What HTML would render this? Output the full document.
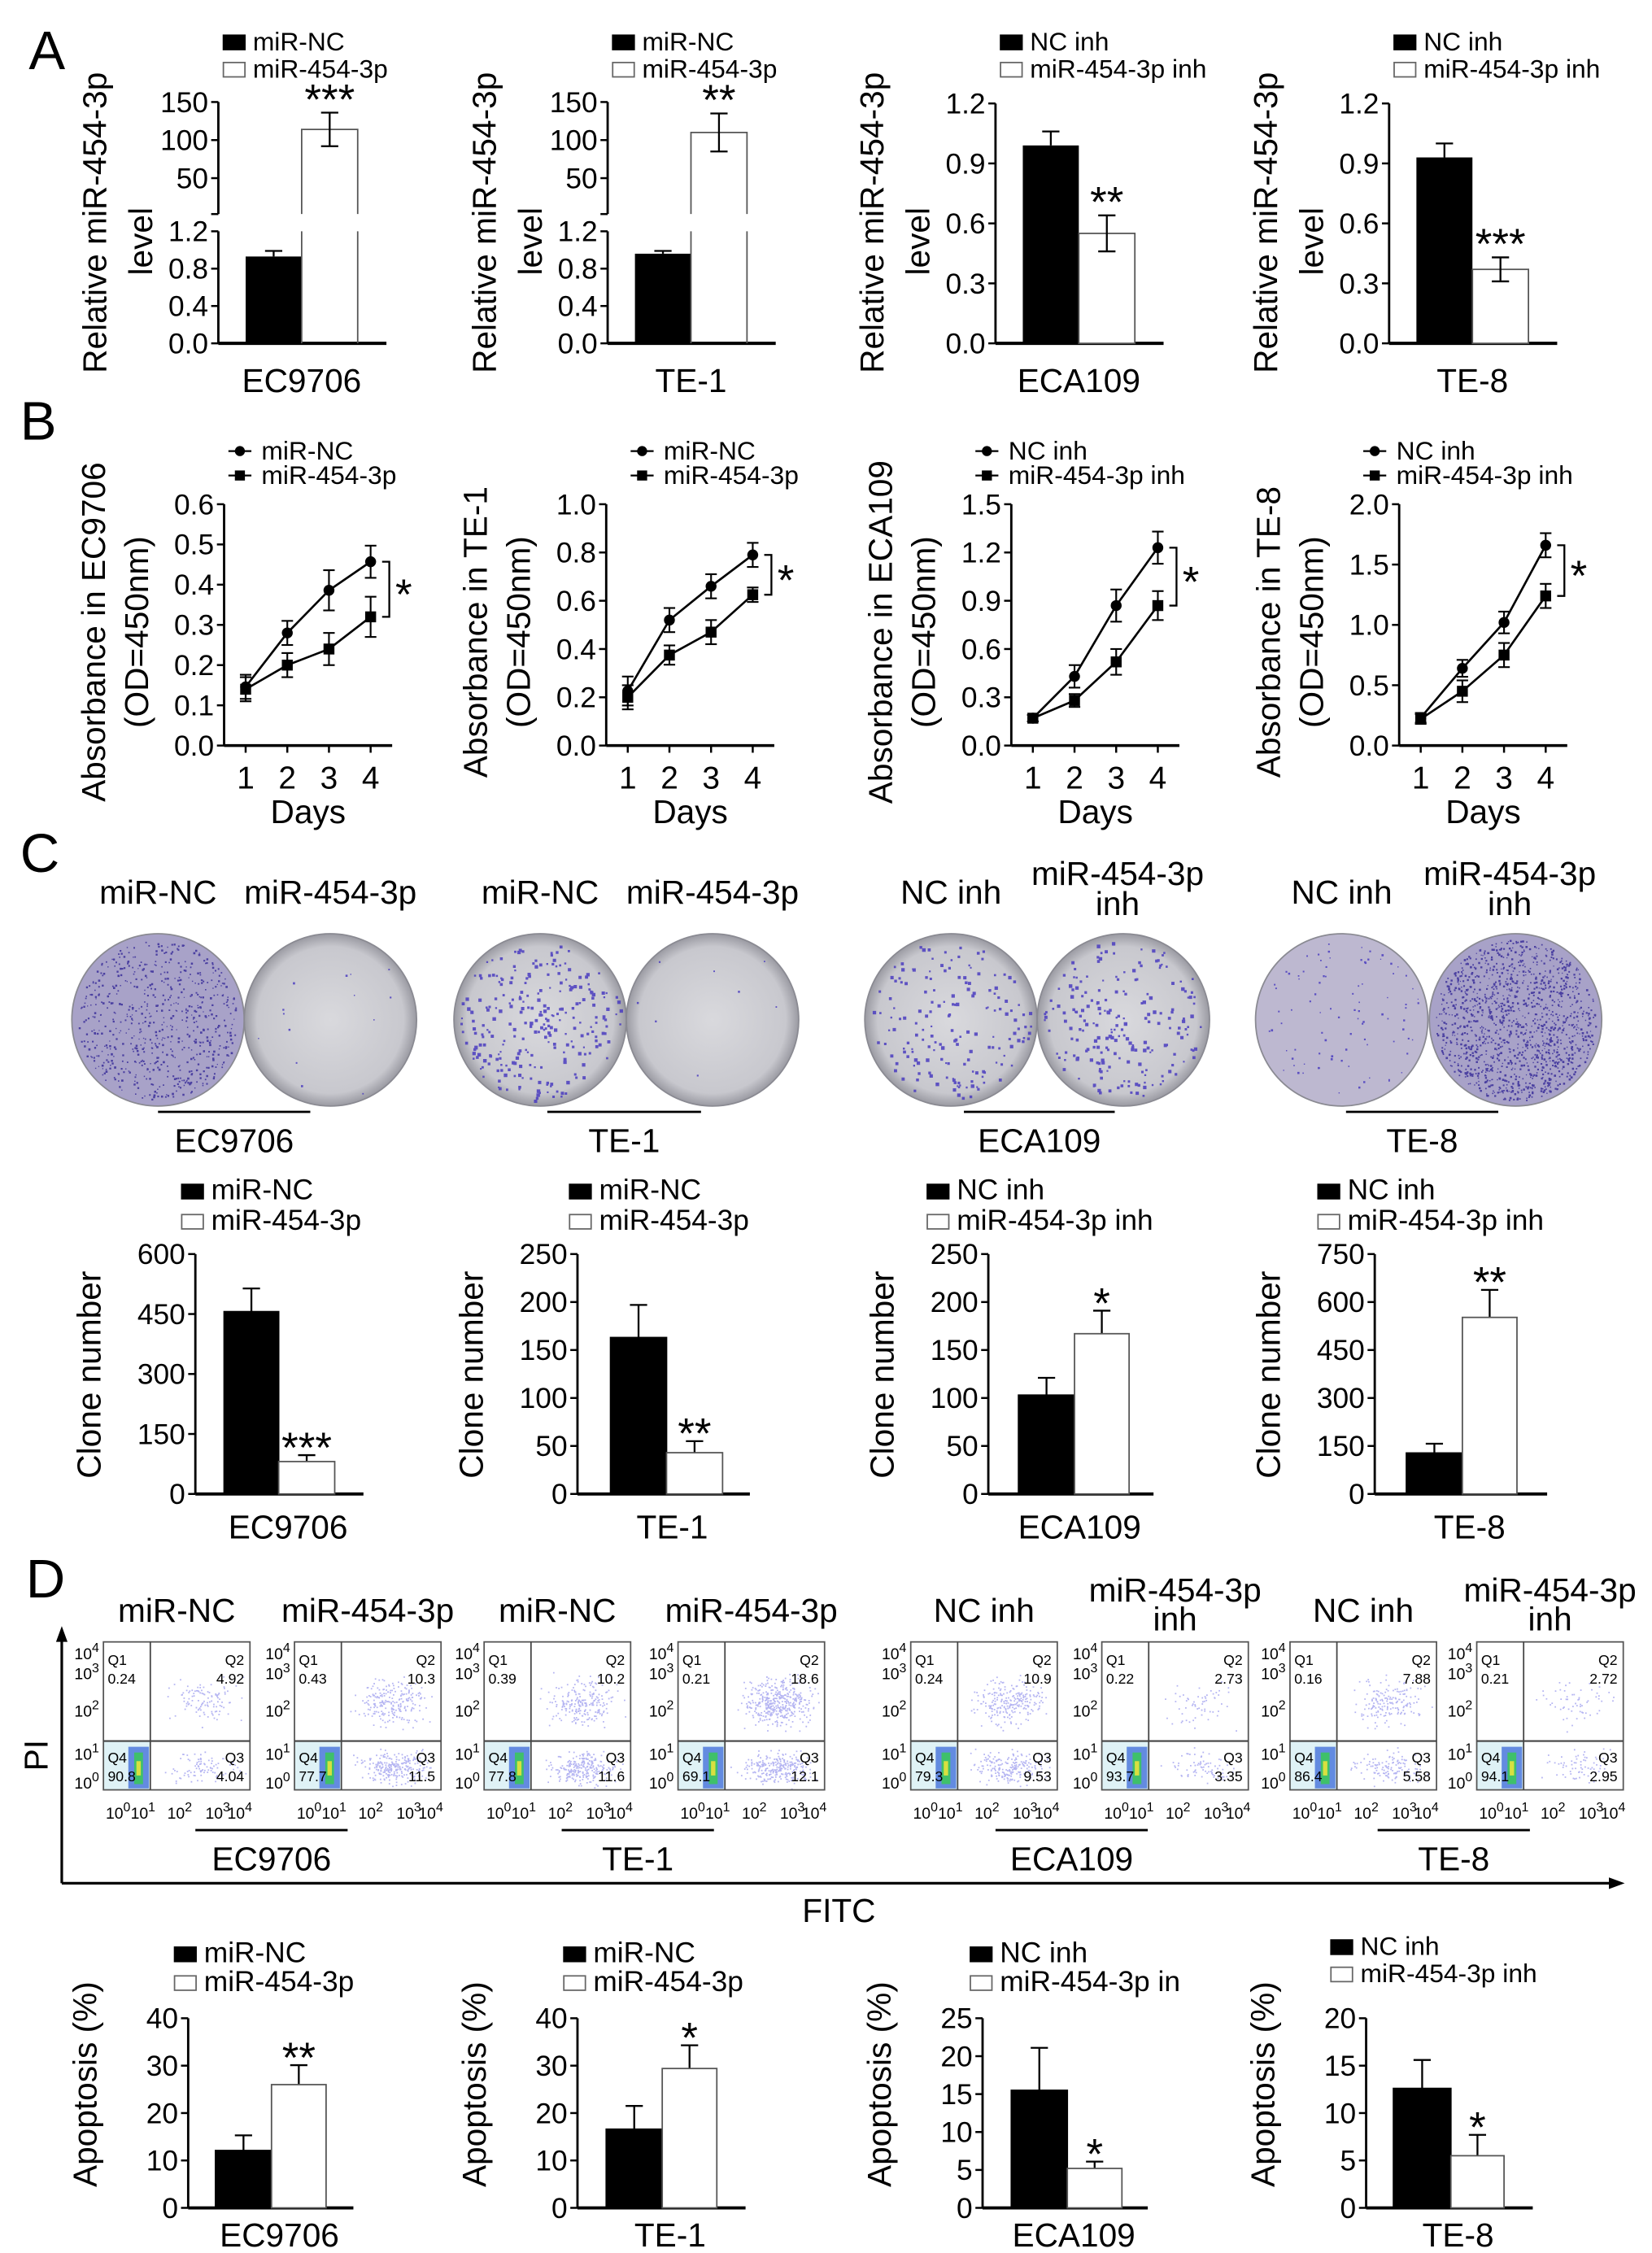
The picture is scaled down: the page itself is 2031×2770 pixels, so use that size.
<!DOCTYPE html>
<html><head><meta charset="utf-8">
<style>
html,body{margin:0;padding:0;background:#fff;}
svg{display:block;font-family:"Liberation Sans",Arial,sans-serif;}
</style></head>
<body>
<svg id="fig" xmlns="http://www.w3.org/2000/svg" width="2031" height="2770" viewBox="0 0 1150 1568.4">
<rect x="0" y="0" width="1150" height="1569" fill="#fff"/>
</svg>
<script>
// ---------- DATA ----------
const cellLines = ['EC9706','TE-1','ECA109','TE-8'];
const legendCtrl = ['miR-NC','miR-NC','NC inh','NC inh'];
const legendTrt = ['miR-454-3p','miR-454-3p','miR-454-3p inh','miR-454-3p inh'];
const legendTrtD = ['miR-454-3p','miR-454-3p','miR-454-3p in','miR-454-3p inh'];
// Panel A
const A_ctrl = [0.93, 0.96, 0.99, 0.93];
const A_ctrlErr = [0.06, 0.03, 0.07, 0.07];
const A_trt = [114, 110, 0.55, 0.37];
const A_trtErr = [22, 25, 0.09, 0.06];
const A_stars = ['***','**','**','***'];
const A_ticksBroken_lo = [0.0, 0.4, 0.8, 1.2];
const A_ticksBroken_hi = [50, 100, 150];
const A_ticksLin = [0.0, 0.3, 0.6, 0.9, 1.2];
// Panel B
const B_days = [1, 2, 3, 4];
const B_ctrl = [[0.146,0.28,0.386,0.457],[0.226,0.52,0.66,0.79],[0.17,0.43,0.87,1.23],[0.23,0.64,1.02,1.66]];
const B_trt = [[0.14,0.20,0.24,0.32],[0.20,0.375,0.47,0.625],[0.17,0.28,0.52,0.87],[0.22,0.45,0.75,1.24]];
const B_ctrlErr = [[0.03,0.03,0.05,0.04],[0.06,0.05,0.05,0.05],[0.02,0.07,0.1,0.1],[0.04,0.07,0.09,0.1]];
const B_trtErr = [[0.03,0.03,0.04,0.05],[0.05,0.04,0.05,0.03],[0.02,0.04,0.08,0.09],[0.04,0.09,0.1,0.1]];
const B_max = [0.6, 1.0, 1.5, 2.0];
const B_step = [0.1, 0.2, 0.3, 0.5];
const B_titles = ['Absorbance in EC9706','Absorbance in TE-1','Absorbance in ECA109','Absorbance in TE-8'];
// Panel C
const C_ctrl = [456, 163, 103, 128];
const C_ctrlErr = [58, 34, 18, 29];
const C_trt = [81, 43, 167, 552];
const C_trtErr = [16, 12, 24, 86];
const C_max = [600, 250, 250, 750];
const C_step = [150, 50, 50, 150];
const C_stars = ['***','**','*','**'];
const C_plateDensity = [[650,14],[260,8],[170,210],[90,1300]];
// Panel D flow
const D_Q1 = [0.24,0.43,0.39,0.21,0.24,0.22,0.16,0.21];
const D_Q2 = [4.92,10.3,10.2,18.6,10.9,2.73,7.88,2.72];
const D_Q3 = [4.04,11.5,11.6,12.1,9.53,3.35,5.58,2.95];
const D_Q4 = [90.8,77.7,77.8,69.1,79.3,93.7,86.4,94.1];
// Panel D bars
const D_ctrl = [12.1, 16.6, 15.5, 12.6];
const D_ctrlErr = [3.2, 4.9, 5.6, 3.0];
const D_trt = [26.0, 29.4, 5.2, 5.5];
const D_trtErr = [4.1, 4.9, 0.9, 2.2];
const D_max = [40, 40, 25, 20];
const D_step = [10, 10, 5, 5];
const D_stars = ['**','*','*','*'];

// ---------- HELPERS ----------
const NS = 'http://www.w3.org/2000/svg';
const svg = document.getElementById('fig');
function mk(tag, attrs, name, parent) {
  const el = document.createElementNS(NS, tag);
  for (const k in attrs) el.setAttribute(k, attrs[k]);
  
  
  (parent || svg).appendChild(el);
  return el;
}
function txt(x, y, s, size, name, opts) {
  opts = opts || {};
  const t = mk('text', {x: x, y: y, 'font-size': size, 'text-anchor': opts.anchor || 'middle', fill: '#000'}, name, opts.parent);
  if (opts.rot) t.setAttribute('transform', 'rotate(-90 ' + x + ' ' + y + ')');
  if (opts.weight) t.setAttribute('font-weight', opts.weight);
  t.textContent = s;
  return t;
}
function line(x1, y1, x2, y2, w, name, parent, color) {
  return mk('line', {x1: x1, y1: y1, x2: x2, y2: y2, stroke: color || '#000', 'stroke-width': w}, name, parent);
}
function fmt(v, step) {
  if (step < 1) return v.toFixed(1);
  return String(Math.round(v));
}
function lcg(seed) { let s = seed; return function(){ s = (s * 1664525 + 1013904223) % 4294967296; return s / 4294967296; }; }

// panel letters
txt(20, 48, 'A', 38, 'panel-letter-a', {anchor: 'start'});
txt(14, 306, 'B', 38, 'panel-letter-b', {anchor: 'start'});
txt(14, 607, 'C', 38, 'panel-letter-c', {anchor: 'start'});
txt(18, 1112, 'D', 38, 'panel-letter-d', {anchor: 'start'});

// legend
function legend(x, y1, y2, ctrlLabel, trtLabel, size, name) {
  const g = mk('g', {}, name);
  mk('rect', {x: x, y: y1 - 11, width: 16, height: 11, fill: '#000'}, 'legend-swatch-control', g);
  txt(x + 21, y1, ctrlLabel, size, 'legend-label-control', {anchor: 'start', parent: g});
  mk('rect', {x: x + 0.5, y: y2 - 10.5, width: 15, height: 10, fill: '#fff', stroke: '#666', 'stroke-width': 1}, 'legend-swatch-treatment', g);
  txt(x + 21, y2, trtLabel, size, 'legend-label-treatment', {anchor: 'start', parent: g});
}

// generic bar chart (linear)
function barChart(cfg) {
  const g = mk('g', {}, cfg.name);
  const ys = v => cfg.y0 - (v / cfg.max) * (cfg.y0 - cfg.yTop);
  line(cfg.ax, cfg.yTop, cfg.ax, cfg.y0, 1.6, 'y-axis', g);
  line(cfg.ax, cfg.y0, cfg.axEnd, cfg.y0, 2.2, 'x-axis', g);
  for (let v = 0; v <= cfg.max + 1e-9; v += cfg.step) {
    const y = ys(v);
    line(cfg.ax - 5, y, cfg.ax, y, 1.4, 'y-tick', g);
    txt(cfg.ax - 7, y + 7, fmt(v, cfg.step), 20, 'y-tick-label', {anchor: 'end', parent: g});
  }
  const bars = [[cfg.b1, cfg.ctrl, cfg.ctrlErr, '#000', 'bar-control'], [cfg.b2, cfg.trt, cfg.trtErr, '#fff', 'bar-treatment']];
  bars.forEach(b => {
    const x = b[0][0], w = b[0][1] - b[0][0], v = b[1], e = b[2];
    const top = ys(v), cx = x + w / 2;
    line(cx, top, cx, ys(v + e), 1.3, 'error-bar', g);
    line(cx - 6, ys(v + e), cx + 6, ys(v + e), 1.3, 'error-cap', g);
    if (b[3] === '#fff') { line(cx, top, cx, ys(v - e), 1.3, 'error-bar', g); line(cx - 6, ys(v - e), cx + 6, ys(v - e), 1.3, 'error-cap', g); }
    mk('rect', {x: x, y: top, width: w, height: cfg.y0 - top, fill: b[3], stroke: b[3] === '#fff' ? '#555' : '#000', 'stroke-width': 1}, b[4], g);
  });
  const cx2 = (cfg.b2[0] + cfg.b2[1]) / 2;
  txt(cx2, ys(cfg.trt + cfg.trtErr) + 5, cfg.star, 30, 'significance-stars', {parent: g});
  txt((cfg.ax + cfg.axEnd) / 2 + 6, cfg.xLabY, cfg.xLabel, 23, 'x-category-label', {parent: g});
  txt(cfg.ylx, cfg.yly, cfg.yTitle, 23, 'y-axis-title', {rot: true, parent: g});
  return g;
}

// ---------- PANEL A ----------
const A_ax = [152, 423, 693, 967];
const A_y0 = 239, A_yTop = 72;
for (let i = 0; i < 4; i++) {
  const ax = A_ax[i];
  const g = mk('g', {}, 'panel-a-chart-' + cellLines[i].toLowerCase());
  legend(ax + 3, 35, 54, legendCtrl[i], legendTrt[i], 18, 'legend');
  const b1 = [ax + 19, ax + 58], b2 = [ax + 58, ax + 97];
  const axEnd = ax + 117;
  line(ax, A_y0, axEnd, A_y0, 2.2, 'x-axis', g);
  let ysLo, ysHi = null;
  if (i < 2) {
    ysLo = v => A_y0 - v / 1.2 * (A_y0 - 161);
    ysHi = v => 124 - (v - 50) / 100 * (124 - 71);
    line(ax, 161, ax, A_y0, 1.6, 'y-axis-lower', g);
    line(ax, 71, ax, 149, 1.6, 'y-axis-upper', g);
    line(ax - 5, 149, ax, 149, 1.4, 'axis-break-tick', g);
    A_ticksBroken_lo.forEach(v => { line(ax - 5, ysLo(v), ax, ysLo(v), 1.4, 'y-tick', g); txt(ax - 7, ysLo(v) + 7, v.toFixed(1), 20, 'y-tick-label', {anchor: 'end', parent: g}); });
    A_ticksBroken_hi.forEach(v => { line(ax - 5, ysHi(v), ax, ysHi(v), 1.4, 'y-tick', g); txt(ax - 7, ysHi(v) + 7, String(v), 20, 'y-tick-label', {anchor: 'end', parent: g}); });
  } else {
    ysLo = v => A_y0 - v / 1.2 * (A_y0 - A_yTop);
    line(ax, A_yTop, ax, A_y0, 1.6, 'y-axis', g);
    A_ticksLin.forEach(v => { line(ax - 5, ysLo(v), ax, ysLo(v), 1.4, 'y-tick', g); txt(ax - 7, ysLo(v) + 7, v.toFixed(1), 20, 'y-tick-label', {anchor: 'end', parent: g}); });
  }
  const cTop = ysLo(A_ctrl[i]), cErr = ysLo(A_ctrl[i] + A_ctrlErr[i]), cx1 = (b1[0] + b1[1]) / 2;
  line(cx1, cTop, cx1, cErr, 1.3, 'error-bar', g); line(cx1 - 6, cErr, cx1 + 6, cErr, 1.3, 'error-cap', g);
  mk('rect', {x: b1[0], y: cTop, width: b1[1] - b1[0], height: A_y0 - cTop, fill: '#000'}, 'bar-control', g);
  const cx2 = (b2[0] + b2[1]) / 2;
  let tTop, eHi, eLo;
  if (ysHi) {
    tTop = ysHi(A_trt[i]); eHi = ysHi(A_trt[i] + A_trtErr[i]); eLo = ysHi(A_trt[i] - A_trtErr[i]);
    mk('path', {d: 'M' + b2[0] + ' ' + A_y0 + 'V161M' + b2[0] + ' 149V' + tTop + 'H' + b2[1] + 'V149M' + b2[1] + ' 161V' + A_y0, fill: 'none', stroke: '#555', 'stroke-width': 1}, 'bar-treatment', g);
  } else {
    tTop = ysLo(A_trt[i]); eHi = ysLo(A_trt[i] + A_trtErr[i]); eLo = ysLo(A_trt[i] - A_trtErr[i]);
    mk('rect', {x: b2[0], y: tTop, width: b2[1] - b2[0], height: A_y0 - tTop, fill: '#fff', stroke: '#555', 'stroke-width': 1}, 'bar-treatment', g);
  }
  line(cx2, eHi, cx2, eLo, 1.3, 'error-bar', g);
  line(cx2 - 6, eHi, cx2 + 6, eHi, 1.3, 'error-cap', g); line(cx2 - 6, eLo, cx2 + 6, eLo, 1.3, 'error-cap', g);
  txt(cx2, eHi + 1, A_stars[i], 30, 'significance-stars', {parent: g});
  txt(ax + 58, 273, cellLines[i], 23, 'x-category-label', {parent: g});
  txt(ax - 78, 155, 'Relative miR-454-3p', 23, 'y-axis-title', {rot: true, parent: g});
  txt(ax - 46, 168, 'level', 23, 'y-axis-title-line2', {rot: true, parent: g});
}

// ---------- PANEL B ----------
const B_ax = [156, 422, 704, 974];
const B_y0 = 519, B_yTop = 351;
for (let i = 0; i < 4; i++) {
  const ax = B_ax[i];
  const g = mk('g', {}, 'panel-b-chart-' + cellLines[i].toLowerCase());
  const xs = d => ax + 15 + (d - 1) * 29;
  const ys = v => B_y0 - v / B_max[i] * (B_y0 - B_yTop);
  line(ax, B_yTop, ax, B_y0, 1.6, 'y-axis', g);
  line(ax, B_y0, ax + 117, B_y0, 2, 'x-axis', g);
  for (let v = 0; v <= B_max[i] + 1e-9; v += B_step[i]) {
    line(ax - 5, ys(v), ax, ys(v), 1.4, 'y-tick', g);
    txt(ax - 7, ys(v) + 7, v.toFixed(1), 20, 'y-tick-label', {anchor: 'end', parent: g});
  }
  B_days.forEach(d => {
    line(xs(d), B_y0, xs(d), B_y0 + 5, 1.4, 'x-tick', g);
    txt(xs(d), B_y0 + 30, String(d), 22, 'x-tick-label', {parent: g});
  });
  txt(xs(2.5), 573, 'Days', 23, 'x-axis-title', {parent: g});
  txt(ax - 83, 440, B_titles[i], 23, 'y-axis-title', {rot: true, parent: g});
  txt(ax - 53, 440, '(OD=450nm)', 23, 'y-axis-title-line2', {rot: true, parent: g});
  [[B_ctrl[i], B_ctrlErr[i], 'line-control', 'circle'], [B_trt[i], B_trtErr[i], 'line-treatment', 'square']].forEach(s => {
    const pts = B_days.map((d, k) => xs(d) + ',' + ys(s[0][k]));
    mk('polyline', {points: pts.join(' '), fill: 'none', stroke: '#000', 'stroke-width': 1.5}, s[2], g);
    B_days.forEach((d, k) => {
      const x = xs(d), hi = ys(s[0][k] + s[1][k]), lo = ys(s[0][k] - s[1][k]);
      line(x, hi, x, lo, 1.2, 'error-bar', g);
      line(x - 4, hi, x + 4, hi, 1.2, 'error-cap', g); line(x - 4, lo, x + 4, lo, 1.2, 'error-cap', g);
      if (s[3] === 'circle') mk('circle', {cx: x, cy: ys(s[0][k]), r: 3.8, fill: '#000'}, 'point-control', g);
      else mk('rect', {x: x - 3.8, y: ys(s[0][k]) - 3.8, width: 7.6, height: 7.6, fill: '#000'}, 'point-treatment', g);
    });
  });
  const bx = xs(4) + 13, y1 = ys(B_ctrl[i][3]), y2 = ys(B_trt[i][3]);
  mk('path', {d: 'M' + (bx - 5) + ' ' + y1 + 'H' + bx + 'V' + y2 + 'H' + (bx - 5), fill: 'none', stroke: '#000', 'stroke-width': 1.3}, 'significance-bracket', g);
  txt(bx + 10, (y1 + y2) / 2 + 14, '*', 30, 'significance-star', {parent: g});
  const lx = [167, 447, 687, 957][i];
  line(lx - 8, 314, lx + 8, 314, 1.3, 'legend-line-control', g);
  mk('circle', {cx: lx, cy: 314, r: 3.5, fill: '#000'}, 'legend-marker-control', g);
  txt(lx + 15, 320, legendCtrl[i], 18, 'legend-label-control', {anchor: 'start', parent: g});
  line(lx - 8, 331, lx + 8, 331, 1.3, 'legend-line-treatment', g);
  mk('rect', {x: lx - 3.5, y: 327.5, width: 7, height: 7, fill: '#000'}, 'legend-marker-treatment', g);
  txt(lx + 15, 337, legendTrt[i], 18, 'legend-label-treatment', {anchor: 'start', parent: g});
}

// ---------- PANEL C plates ----------
const plateCx = [[110, 230], [376, 496], [662, 782], [934, 1055]];
const plateLabelsCtrl = [['miR-NC'], ['miR-NC'], ['NC inh'], ['NC inh']];
const plateLabelsTrt = [['miR-454-3p'], ['miR-454-3p'], ['miR-454-3p', 'inh'], ['miR-454-3p', 'inh']];
const defs = mk('defs', {}, 'defs');
const grad = mk('radialGradient', {id: 'plate', cx: '0.5', cy: '0.5', r: '0.5'}, 'plate-gradient', defs);
mk('stop', {offset: '0', 'stop-color': '#d9d9dd'}, 'stop', grad);
mk('stop', {offset: '0.85', 'stop-color': '#c8c8ce'}, 'stop', grad);
mk('stop', {offset: '1', 'stop-color': '#9a9aa2'}, 'stop', grad);
for (let i = 0; i < 4; i++) {
  const g = mk('g', {}, 'panel-c-plates-' + cellLines[i].toLowerCase());
  for (let j = 0; j < 2; j++) {
    const cx = plateCx[i][j], cy = 710, r = 60;
    const n = C_plateDensity[i][j];
    const heavy = n > 500;
    const fill = heavy ? '#a8a2c8' : (i === 3 ? '#bdb8d0' : 'url(#plate)');
    mk('circle', {cx: cx, cy: cy, r: r, fill: fill, stroke: '#8a8a92', 'stroke-width': 1}, j === 0 ? 'plate-control' : 'plate-treatment', g);
    const rnd = lcg(1000 + i * 17 + j * 5);
    let path = '';
    const big = (i === 1 && j === 0) || i === 2;
    for (let k = 0; k < n; k++) {
      const a = rnd() * Math.PI * 2, rr = Math.sqrt(rnd()) * (r - 4);
      const x = cx + Math.cos(a) * rr, y = cy + Math.sin(a) * rr;
      const s = big ? 1.2 + rnd() * 1.3 : 0.7 + rnd() * 0.8;
      path += 'M' + x.toFixed(1) + ' ' + y.toFixed(1) + 'h' + s.toFixed(1) + 'v' + s.toFixed(1) + 'h-' + s.toFixed(1) + 'z';
    }
    mk('path', {d: path, fill: heavy ? '#3b2f9a' : '#4a3cc0', opacity: 0.85}, 'colonies', g);
    const lines = j === 0 ? plateLabelsCtrl[i] : plateLabelsTrt[i];
    if (lines.length === 1) txt(cx, 629, lines[0], 23, 'plate-label', {parent: g});
    else { txt(cx - 4, 616, lines[0], 23, 'plate-label', {parent: g}); txt(cx - 4, 637, lines[1], 23, 'plate-label', {parent: g}); }
  }
  const ux = [[110, 216], [381, 488], [671, 776], [937, 1043]][i];
  line(ux[0], 774, ux[1], 774, 1.6, 'group-underline', g);
  txt((ux[0] + ux[1]) / 2, 802, cellLines[i], 23, 'group-label', {parent: g});
}

// ---------- PANEL C bars ----------
const C_ax = [136, 402, 688, 957];
const C_bars = [[[156, 194], [194, 233]], [[425, 464], [464, 503]], [[709, 748], [748, 786]], [[979, 1018], [1018, 1056]]];
const C_end = [253, 522, 803, 1077];
const C_leg = [126, 396, 645, 917];
for (let i = 0; i < 4; i++) {
  legend(C_leg[i], 835, 856, legendCtrl[i], legendTrt[i], 20, 'legend');
  barChart({name: 'panel-c-chart-' + cellLines[i].toLowerCase(), ax: C_ax[i], axEnd: C_end[i], y0: 1040, yTop: 873,
    max: C_max[i], step: C_step[i], b1: C_bars[i][0], b2: C_bars[i][1], ctrl: C_ctrl[i], ctrlErr: C_ctrlErr[i],
    trt: C_trt[i], trtErr: C_trtErr[i], star: C_stars[i], xLabel: cellLines[i], xLabY: 1071,
    yTitle: 'Clone number', ylx: C_ax[i] - 66, yly: 957});
}

// ---------- PANEL D flow ----------
const flowX = [72, 205, 337, 472, 634, 767, 898, 1028];
const flowTitles = [['miR-NC'], ['miR-454-3p'], ['miR-NC'], ['miR-454-3p'], ['NC inh'], ['miR-454-3p', 'inh'], ['NC inh'], ['miR-454-3p', 'inh']];
const FY = 1143, FH = 103, FW = 102;
for (let i = 0; i < 8; i++) {
  const x0 = flowX[i];
  const g = mk('g', {}, 'flow-plot-' + (i + 1));
  const gx = x0 + FW * 0.32, gy = FY + FH * 0.67;
  mk('rect', {x: x0, y: gy, width: gx - x0, height: FY + FH - gy, fill: '#dff2f6'}, 'q4-background', g);
  const rnd = lcg(77 + i * 31);
  let d = '';
  const n2 = Math.round(D_Q2[i] * 22), n3 = Math.round(D_Q3[i] * 22);
  for (let k = 0; k < n2 + n3; k++) {
    const q2 = k < n2;
    const u = (rnd() + rnd() + rnd()) / 3, v = (rnd() + rnd() + rnd()) / 3;
    let x = gx + 2 + u * (FW * 0.66);
    let y = q2 ? gy - 4 - v * FH * 0.45 : gy + 3 + v * FH * 0.3;
    d += 'M' + x.toFixed(1) + ' ' + y.toFixed(1) + 'h1v1h-1z';
  }
  mk('path', {d: d, fill: '#6a6ae6', opacity: 0.5}, 'event-dots', g);
  mk('rect', {x: x0 + FW * 0.17, y: gy + 4, width: FW * 0.14, height: FY + FH - gy - 5, fill: '#3a68d8', opacity: 0.75}, 'q4-population', g);
  mk('rect', {x: x0 + FW * 0.21, y: gy + 8, width: FW * 0.06, height: FY + FH - gy - 12, fill: '#3fc06a'}, 'q4-population-core', g);
  mk('rect', {x: x0 + FW * 0.225, y: gy + 14, width: FW * 0.03, height: FY + FH - gy - 24, fill: '#d8e040'}, 'q4-population-peak', g);
  mk('rect', {x: x0, y: FY, width: FW, height: FH, fill: 'none', stroke: '#555', 'stroke-width': 1}, 'plot-frame', g);
  line(gx, FY, gx, FY + FH, 1, 'gate-vertical', g, '#444');
  line(x0, gy, x0 + FW, gy, 1.2, 'gate-horizontal', g, '#444');
  txt(x0 + 3, FY + 16, 'Q1', 10, 'q1-label', {anchor: 'start', parent: g});
  txt(x0 + 3, FY + 29, String(D_Q1[i]), 10, 'q1-value', {anchor: 'start', parent: g});
  txt(x0 + FW - 4, FY + 16, 'Q2', 10, 'q2-label', {anchor: 'end', parent: g});
  txt(x0 + FW - 4, FY + 29, String(D_Q2[i]), 10, 'q2-value', {anchor: 'end', parent: g});
  txt(x0 + 3, FY + 84, 'Q4', 10, 'q4-label', {anchor: 'start', parent: g});
  txt(x0 + 3, FY + 97, String(D_Q4[i]), 10, 'q4-value', {anchor: 'start', parent: g});
  txt(x0 + FW - 4, FY + 84, 'Q3', 10, 'q3-label', {anchor: 'end', parent: g});
  txt(x0 + FW - 4, FY + 97, String(D_Q3[i]), 10, 'q3-value', {anchor: 'end', parent: g});
  [['4', FY + 8], ['3', FY + 22], ['2', FY + 48], ['1', FY + 78], ['0', FY + 98]].forEach(t => {
    const tt = txt(x0 - 3, t[1] + 4, '10', 11, 'y-tick-label', {anchor: 'end', parent: g});
    const sup = mk('tspan', {dy: -5, 'font-size': 9}, 'exponent', tt); sup.textContent = t[0];
  });
  [['0', 0.1], ['1', 0.27], ['2', 0.52], ['3', 0.78], ['4', 0.93]].forEach(t => {
    const tt = txt(x0 + FW * t[1], FY + FH + 20, '10', 11, 'x-tick-label', {parent: g});
    const sup = mk('tspan', {dy: -5, 'font-size': 9}, 'exponent', tt); sup.textContent = t[0];
  });
  const tl = flowTitles[i], cx = x0 + FW / 2;
  if (tl.length === 1) txt(cx, 1129, tl[0], 23, 'flow-title', {parent: g});
  else { txt(cx, 1115, tl[0], 23, 'flow-title', {parent: g}); txt(cx, 1135, tl[1], 23, 'flow-title', {parent: g}); }
}
const flowGroups = [[136, 242], [391, 497], [693, 799], [959, 1065]];
flowGroups.forEach((u, i) => {
  line(u[0], 1274, u[1], 1274, 1.6, 'group-underline');
  txt((u[0] + u[1]) / 2, 1302, cellLines[i], 23, 'group-label');
});
line(43, 1311, 43, 1140, 1.8, 'pi-axis');
mk('path', {d: 'M43 1132 L39 1143 L47 1143 Z', fill: '#000'}, 'pi-axis-arrow');
line(43, 1311, 1122, 1311, 1.8, 'fitc-axis');
mk('path', {d: 'M1131 1311 L1120 1307 L1120 1315 Z', fill: '#000'}, 'fitc-axis-arrow');
txt(33, 1222, 'PI', 23, 'pi-axis-title', {rot: true});
txt(584, 1338, 'FITC', 23, 'fitc-axis-title');

// ---------- PANEL D bars ----------
const D_ax = [131, 402, 684, 951];
const D_bars = [[[150, 189], [189, 227]], [[422, 461], [461, 499]], [[704, 743], [743, 781]], [[970, 1010], [1010, 1047]]];
const D_end = [246, 519, 799, 1067];
const D_leg = [121, 392, 675, 926];
for (let i = 0; i < 4; i++) {
  if (i < 3) legend(D_leg[i], 1366, 1386, legendCtrl[i], legendTrtD[i], 20, 'legend');
  else legend(D_leg[i], 1361, 1380, legendCtrl[i], legendTrtD[i], 18, 'legend');
  barChart({name: 'panel-d-chart-' + cellLines[i].toLowerCase(), ax: D_ax[i], axEnd: D_end[i], y0: 1537, yTop: 1405,
    max: D_max[i], step: D_step[i], b1: D_bars[i][0], b2: D_bars[i][1], ctrl: D_ctrl[i], ctrlErr: D_ctrlErr[i],
    trt: D_trt[i], trtErr: D_trtErr[i], star: D_stars[i], xLabel: cellLines[i], xLabY: 1564,
    yTitle: 'Apoptosis (%)', ylx: D_ax[i] - 64, yly: 1451});
}
</script>
</body></html>
